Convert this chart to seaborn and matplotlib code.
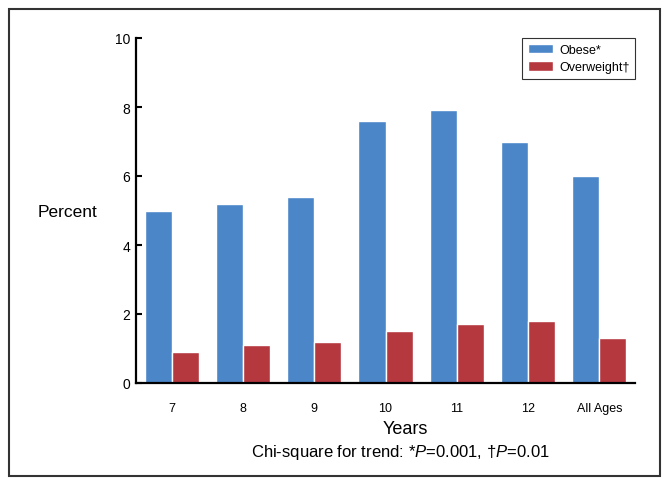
import numpy as np
import pandas as pd
import matplotlib as mpl
import matplotlib.pyplot as plt
import seaborn as sns
from matplotlib.ticker import FixedLocator

ages = ["7", "8", "9", "10", "11", "12", "All Ages"]
obese = [5.0, 5.2, 5.4, 7.6, 7.9, 7.0, 6.0]
overweight = [0.9, 1.1, 1.2, 1.5, 1.7, 1.8, 1.3]
groups = ["Obese*", "Overweight\u2020"]

df = pd.DataFrame({
    "Age": ages * 2,
    "Percent": obese + overweight,
    "Group": [groups[0]] * len(ages) + [groups[1]] * len(ages),
})

sns.set_style("white")
plt.rcParams["font.family"] = ["Liberation Sans", "DejaVu Sans"]
plt.rcParams["mathtext.fontset"] = "custom"
plt.rcParams["mathtext.rm"] = "Liberation Sans"
plt.rcParams["mathtext.it"] = "Liberation Sans:italic"
plt.rcParams["text.color"] = "black"
plt.rcParams["xtick.color"] = "black"
plt.rcParams["ytick.color"] = "black"

fig = plt.figure(figsize=(6.71, 4.89), dpi=100)
ax = fig.add_axes([136 / 671, 1 - 384 / 489, 499 / 671, 345 / 489])

pal = {groups[0]: "#4A86C8", groups[1]: "#B5383F"}
sns.barplot(data=df, x="Age", y="Percent", hue="Group", palette=pal,
            width=0.76, edgecolor="white", linewidth=1, saturation=1, ax=ax)

ax.set_xlim(-0.5, len(ages) - 0.5)
ax.set_ylim(0, 10)
ax.set_yticks([0, 2, 4, 6, 8, 10])
ax.set_xlabel("")
ax.set_ylabel("")
for s in ["top", "right"]:
    ax.spines[s].set_visible(False)
for s in ["left", "bottom"]:
    ax.spines[s].set_linewidth(1.6)
    ax.spines[s].set_color("black")

ax.tick_params(axis="x", which="major", length=0, pad=14, labelsize=9)
ax.xaxis.set_minor_locator(FixedLocator(np.arange(-0.5, len(ages), 1.0)))
ax.tick_params(axis="x", which="minor", direction="in", length=4, width=1.5)
ax.tick_params(axis="y", direction="in", length=4, width=1.5, labelsize=10, pad=4, left=True)

leg = ax.legend(loc="upper right", bbox_to_anchor=(1.0, 1.0), borderaxespad=0,
                fancybox=False, edgecolor="black", fontsize=9,
                handlelength=2.0, handleheight=0.8, handletextpad=0.5,
                borderpad=0.45, labelspacing=0.45)
leg.get_frame().set_linewidth(0.8)
for t in leg.get_texts():
    t.set_color("black")

fig.text(38 / 671, 1 - 213 / 489, "Percent", fontsize=12.5, va="center", ha="left")
fig.text(405 / 671, 1 - 430 / 489, "Years", fontsize=13, va="center", ha="center")
fig.text(400 / 671, 1 - 453 / 489,
         "Chi-square for trend: *$\\mathit{P}$=0.001, \u2020$\\mathit{P}$=0.01",
         fontsize=12, va="center", ha="center")

fig.patches.append(mpl.patches.Rectangle((9 / 671, 1 - 477 / 489), 651 / 671, 467 / 489,
                                         transform=fig.transFigure, fill=False,
                                         edgecolor="#333333", linewidth=1.5))

fig.savefig("out.png", dpi=100)
